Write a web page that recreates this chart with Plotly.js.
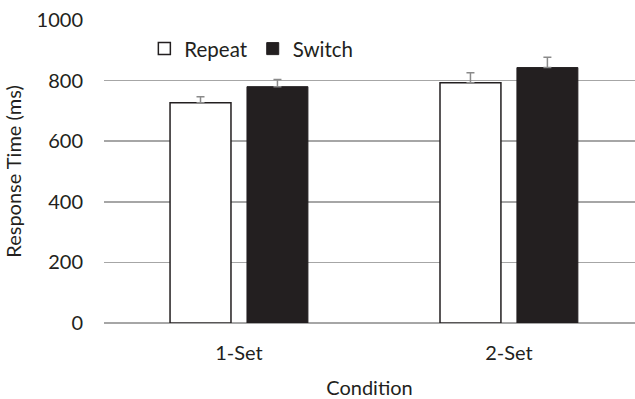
<!DOCTYPE html>
<html>
<head>
<meta charset="utf-8">
<script src="https://cdn.plot.ly/plotly-3.0.1.min.js"></script>
<style>html,body{margin:0;padding:0;background:#fff;}#chart{width:635px;height:399px;}</style>
</head>
<body>
<div id="chart"></div>
<script>
var categories = ["1-Set", "2-Set"];
var repeatRT = [727, 793];
var repeatErr = [20, 33];
var switchRT = [780, 843];
var switchErr = [24, 34];
var yTicks = [0, 200, 400, 600, 800, 1000];

var font = "Lato, Open Sans, sans-serif";
var txt = "#231f20";
var traces = [
  {
    type: "bar", name: "Repeat", x: categories, y: repeatRT,
    marker: {color: "#ffffff", line: {color: txt, width: 1.5}},
    error_y: {type: "data", array: repeatErr, symmetric: false, arrayminus: [0, 0], color: "#8a8a8a", thickness: 1.5, width: 4}
  },
  {
    type: "bar", name: "Switch", x: categories, y: switchRT,
    marker: {color: txt, line: {color: txt, width: 1}},
    error_y: {type: "data", array: switchErr, symmetric: false, arrayminus: [0, 0], color: "#8a8a8a", thickness: 1.5, width: 4}
  }
];

var layout = {
  width: 635, height: 399,
  margin: {l: 104, r: 0, t: 20, b: 76},
  paper_bgcolor: "#ffffff", plot_bgcolor: "#ffffff",
  font: {family: font, size: 20, color: txt},
  barmode: "group", bargap: 0.43, bargroupgap: 0.208,
  showlegend: true,
  legend: {orientation: "h", x: 0.076, y: 0.905, xanchor: "left", yanchor: "middle",
           font: {family: font, size: 20.5, color: txt}, bgcolor: "rgba(0,0,0,0)", itemwidth: 30, tracegroupgap: 0},
  xaxis: {
    type: "category", range: [-0.5, 1.467], showgrid: false, zeroline: false, showline: false,
    ticks: "", ticklabelstandoff: 16, tickfont: {family: font, size: 20, color: txt},
    title: {text: "Condition", font: {family: font, size: 20, color: txt}, standoff: 19},
    fixedrange: true
  },
  yaxis: {
    range: [0, 1000], tickvals: yTicks, ticktext: yTicks.map(String),
    showgrid: true, gridcolor: "#a6a6a6", gridwidth: 1.5,
    zeroline: true, zerolinecolor: "#a6a6a6", zerolinewidth: 2,
    showline: false, ticks: "", ticklabelstandoff: 20,
    tickfont: {family: font, size: 20, color: txt},
    title: {text: "Response Time (ms)", font: {family: font, size: 20, color: txt}, standoff: 9},
    fixedrange: true
  }
};

Plotly.newPlot("chart", traces, layout, {staticPlot: true, displayModeBar: false});
</script>
</body>
</html>
